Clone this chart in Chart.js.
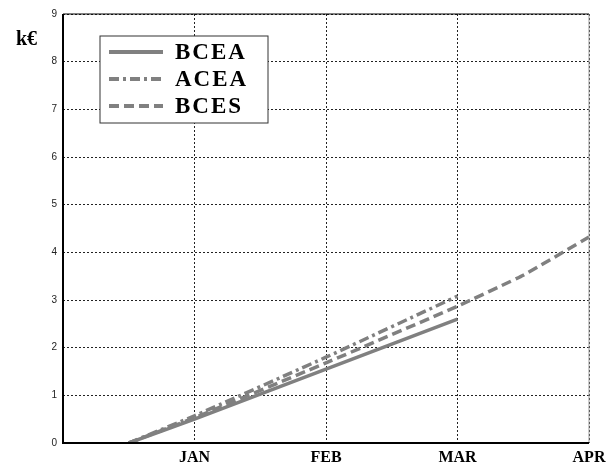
<!DOCTYPE html>
<html>
<head>
<meta charset="utf-8">
<script src="https://cdn.jsdelivr.net/npm/chart.js@4/dist/chart.umd.min.js"></script>
<style>
  html, body { margin: 0; padding: 0; background: #fff; }
  #wrap { position: relative; width: 608px; height: 463px; }
  #unit { position: absolute; left: 16px; top: 27px; font: bold 20px "Liberation Serif", serif; color: #000; }
</style>
</head>
<body>
<div id="wrap">
  <canvas id="chart" width="608" height="463"></canvas>
  <div id="unit">k€</div>
</div>
<script>
// month positions on the x axis (0 = axis start)
const monthLabels = ['', 'JAN', 'FEB', 'MAR', 'APR'];
const yTicks = [0, 1, 2, 3, 4, 5, 6, 7, 8, 9];

const bceaX = [0.5, 1, 2, 3];
const bceaY = [0, 0.5, 1.55, 2.6];

const aceaX = [0.5, 1, 2, 3];
const aceaY = [0, 0.57, 1.8, 3.08];

const bcesX = [0.5, 1, 2, 3, 3.5, 4];
const bcesY = [0, 0.53, 1.68, 2.87, 3.52, 4.32];

function pts(xs, ys) {
    return xs.map((x, i) => ({ x: x, y: ys[i] }));
}

const grey = '#808080';

const frame = {
    id: 'frame',
    afterDraw(chart) {
        const a = chart.chartArea;
        const c = chart.ctx;
        c.save();
        c.setLineDash([]);
        c.strokeStyle = '#000';
        c.lineWidth = 1;
        c.beginPath();
        c.moveTo(a.left, a.top);
        c.lineTo(a.right, a.top);
        c.stroke();
        c.strokeStyle = '#999';
        c.beginPath();
        c.moveTo(a.right, a.top);
        c.lineTo(a.right, a.bottom);
        c.stroke();
        c.strokeStyle = '#000';
        c.lineWidth = 2;
        c.beginPath();
        c.moveTo(a.left, a.top);
        c.lineTo(a.left, a.bottom);
        c.lineTo(a.right, a.bottom);
        c.stroke();
        c.restore();
    }
};

// legend drawn inside the plot, top-left
const boxLegend = {
    id: 'boxLegend',
    afterDraw(chart) {
        const c = chart.ctx;
        const x0 = 100, y0 = 36, w = 168, h = 87;
        c.save();
        c.fillStyle = '#fff';
        c.fillRect(x0, y0, w, h);
        c.strokeStyle = '#333';
        c.lineWidth = 1;
        c.setLineDash([]);
        c.strokeRect(x0, y0, w, h);
        c.font = 'bold 23px "Liberation Serif", serif';
        c.letterSpacing = '2px';
        c.textBaseline = 'middle';
        chart.data.datasets.forEach((ds, i) => {
            const y = y0 + 16 + i * 27;
            c.strokeStyle = ds.borderColor;
            c.lineWidth = 4;
            c.setLineDash(ds.borderDash || []);
            c.beginPath();
            c.moveTo(x0 + 9, y);
            c.lineTo(x0 + 63, y);
            c.stroke();
            c.fillStyle = '#000';
            c.fillText(ds.label, x0 + 75, y + 1);
        });
        c.restore();
    }
};

const dotted = { display: false, dash: [2, 2] };

new Chart(document.getElementById('chart').getContext('2d'), {
    type: 'line',
    data: {
        datasets: [
            { label: 'BCEA', data: pts(bceaX, bceaY), borderColor: grey, borderWidth: 3.5, borderDash: [] },
            { label: 'ACEA', data: pts(aceaX, aceaY), borderColor: grey, borderWidth: 3.5, borderDash: [10, 4, 3, 4] },
            { label: 'BCES', data: pts(bcesX, bcesY), borderColor: grey, borderWidth: 3.5, borderDash: [10, 5] }
        ]
    },
    options: {
        responsive: false,
        animation: false,
        layout: { padding: { left: 0, right: 19, top: 14, bottom: 0 } },
        elements: { point: { radius: 0 }, line: { tension: 0.1 } },
        plugins: { legend: { display: false }, tooltip: { enabled: false } },
        scales: {
            x: {
                type: 'linear', min: 0, max: 4,
                border: dotted,
                grid: { color: '#222', lineWidth: 1, drawTicks: false },
                afterBuildTicks: (s) => { s.ticks = monthLabels.map((m, i) => ({ value: i })); },
                afterFit: (s) => { s.height = 20; s.paddingLeft = 0; s.paddingRight = 0; },
                ticks: {
                    padding: 5, color: '#000', maxRotation: 0, autoSkip: false,
                    font: { family: '"Liberation Serif", serif', weight: 'bold', size: 16 },
                    callback: (v) => monthLabels[v] || ''
                }
            },
            y: {
                min: 0, max: 9,
                border: dotted,
                grid: { color: '#222', lineWidth: 1, drawTicks: false },
                afterBuildTicks: (s) => { s.ticks = yTicks.map((v) => ({ value: v })); },
                afterFit: (s) => { s.width = 63; s.paddingTop = 0; s.paddingBottom = 0; },
                ticks: {
                    padding: 6, color: '#222',
                    font: { family: '"Liberation Sans", sans-serif', size: 10 }
                }
            }
        }
    },
    plugins: [frame, boxLegend]
});
</script>
</body>
</html>
